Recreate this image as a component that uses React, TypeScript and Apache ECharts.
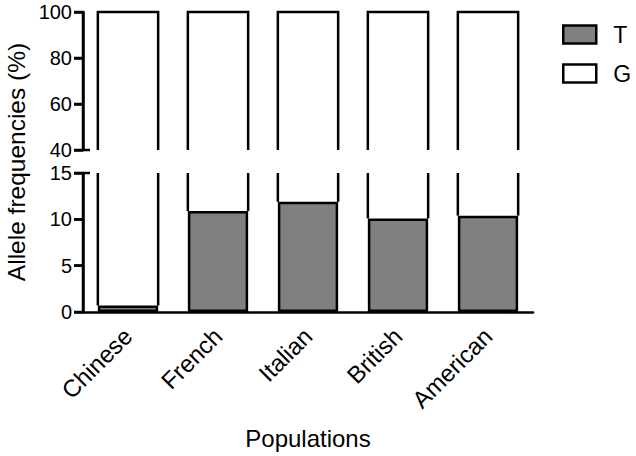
import React, { useEffect, useRef } from "react";
import * as echarts from "echarts";

const categories = ["Chinese", "French", "Italian", "British", "American"];
const tValues = [0.7, 10.9, 11.9, 10.1, 10.4];
const gValues = [99.3, 89.1, 88.1, 89.9, 89.6];
const lowerTicks = { min: 0, max: 15, interval: 5 };
const upperTicks = { min: 40, max: 100, interval: 20 };

const FONT = "Liberation Sans, Arial, sans-serif";
const BAR_FRACTION = 0.67;
const LW = 2.5;

function tickList(r: { min: number; max: number; interval: number }) {
  const out: number[][] = [];
  for (let v = r.min; v <= r.max + 1e-9; v += r.interval) out.push([0, v]);
  return out;
}

function makeYAxis(gridIndex: number, r: { min: number; max: number; interval: number }) {
  return {
    type: "value",
    gridIndex,
    min: r.min,
    max: r.max,
    interval: r.interval,
    splitLine: { show: false },
    axisLine: { show: true, lineStyle: { color: "#000", width: LW } },
    axisTick: { show: true, length: 9, lineStyle: { color: "#000", width: LW } },
    axisLabel: { color: "#000", fontSize: 20, fontFamily: FONT, margin: 11 },
  };
}

function axisSeries(gridIndex: number, r: { min: number; max: number; interval: number }, breakValue: number) {
  return {
    name: "axis" + gridIndex,
    type: "custom",
    silent: true,
    xAxisIndex: gridIndex,
    yAxisIndex: gridIndex,
    encode: { x: 0, y: 1 },
    data: tickList(r),
    renderItem: (params: any, api: any) => {
      const v = api.value(1);
      const band = api.size([1, 0])[0];
      const x = api.coord([0, v])[0] - band / 2;
      const y = api.coord([0, v])[1];
      const right = v === breakValue ? 7 : 0;
      const children: any[] = [
        { type: "line", shape: { x1: x - 9, y1: y, x2: x + right, y2: y }, style: { stroke: "#000", lineWidth: LW } },
      ];
      if (params.dataIndex === 0) {
        const a = api.coord([0, r.min])[1];
        const b = api.coord([0, r.max])[1];
        children.push({ type: "line", shape: { x1: x, y1: a, x2: x, y2: b }, style: { stroke: "#000", lineWidth: LW } });
      }
      return { type: "group", children };
    },
  };
}

export default function App() {
  const ref = useRef<HTMLDivElement>(null);
  useEffect(() => {
    document.body.style.margin = "0";
    const chart = echarts.init(ref.current!, null, { renderer: "svg" });
    const data = categories.map((c, i) => [i, tValues[i], gValues[i]]);

    const outlineLower = (params: any, api: any) => {
      const idx = api.value(0);
      const t = api.value(1);
      const g = api.value(2);
      const top = Math.min(t + g, lowerTicks.max);
      const w = api.size([1, 0])[0] * BAR_FRACTION;
      const p0 = api.coord([idx, t]);
      const p1 = api.coord([idx, top]);
      return {
        type: "group",
        children: [
          { type: "polyline", shape: { points: [[p0[0] - w / 2, p0[1]], [p1[0] - w / 2, p1[1]]] }, style: { stroke: "#000", lineWidth: LW, fill: null } },
          { type: "polyline", shape: { points: [[p0[0] + w / 2, p0[1]], [p1[0] + w / 2, p1[1]]] }, style: { stroke: "#000", lineWidth: LW, fill: null } },
        ],
      };
    };
    const outlineUpper = (params: any, api: any) => {
      const idx = api.value(0);
      const t = api.value(1);
      const g = api.value(2);
      const bottom = Math.max(t, upperTicks.min);
      const w = api.size([1, 0])[0] * BAR_FRACTION;
      const p0 = api.coord([idx, bottom]);
      const p1 = api.coord([idx, t + g]);
      return {
        type: "polyline",
        shape: {
          points: [
            [p0[0] - w / 2, p0[1]],
            [p1[0] - w / 2, p1[1]],
            [p1[0] + w / 2, p1[1]],
            [p0[0] + w / 2, p0[1]],
          ],
        },
        style: { stroke: "#000", lineWidth: LW, fill: "#fff" },
      };
    };

    chart.setOption({
      animation: false,
      grid: [
        { left: 83, top: 12, width: 450, height: 138 },
        { left: 83, top: 173, width: 450, height: 139 },
      ],
      xAxis: [
        { type: "category", gridIndex: 0, data: categories, show: false },
        {
          type: "category",
          gridIndex: 1,
          data: categories,
          axisLine: { onZero: false, lineStyle: { color: "#000", width: LW } },
          axisTick: { alignWithLabel: true, length: 8, lineStyle: { color: "#000", width: LW } },
          axisLabel: { rotate: 45, color: "#000", fontSize: 24, fontFamily: FONT, margin: 20 },
          name: "Populations",
          nameLocation: "middle",
          nameGap: 114,
          nameTextStyle: { color: "#000", fontSize: 24, fontFamily: FONT },
        },
      ],
      yAxis: [makeYAxis(0, upperTicks), makeYAxis(1, lowerTicks)],
      legend: {
        orient: "vertical",
        left: 562,
        top: 23,
        padding: 0,
        itemWidth: 33,
        itemHeight: 18,
        itemGap: 16,
        textStyle: { color: "#000", fontSize: 23, fontFamily: FONT, padding: [0, 0, 0, 12] },
        data: [
          { name: "T", icon: "rect", itemStyle: { color: "#808080", borderColor: "#000", borderWidth: LW } },
          { name: "G", icon: "rect", itemStyle: { color: "#fff", borderColor: "#000", borderWidth: LW } },
        ],
      },
      graphic: [
        {
          type: "text",
          x: 16,
          y: 162,
          rotation: Math.PI / 2,
          style: {
            text: "Allele frequencies (%)",
            font: `24.5px ${FONT}`,
            fill: "#000",
            align: "center",
            verticalAlign: "middle",
          },
        },
      ],
      series: [
        {
          name: "G",
          type: "custom",
          xAxisIndex: 1,
          yAxisIndex: 1,
          renderItem: outlineLower,
          data,
          itemStyle: { color: "#fff", borderColor: "#000", borderWidth: LW },
        },
        {
          name: "T",
          type: "bar",
          xAxisIndex: 1,
          yAxisIndex: 1,
          data: tValues,
          barWidth: `${BAR_FRACTION * 100}%`,
          itemStyle: { color: "#808080", borderColor: "#000", borderWidth: LW },
        },
        {
          name: "G",
          type: "custom",
          xAxisIndex: 0,
          yAxisIndex: 0,
          renderItem: outlineUpper,
          data,
          itemStyle: { color: "#fff", borderColor: "#000", borderWidth: LW },
        },
        axisSeries(0, upperTicks, upperTicks.min),
        axisSeries(1, lowerTicks, lowerTicks.max),
      ],
    });
    return () => chart.dispose();
  }, []);
  return <div ref={ref} style={{ width: 636, height: 456 }} />;
}
